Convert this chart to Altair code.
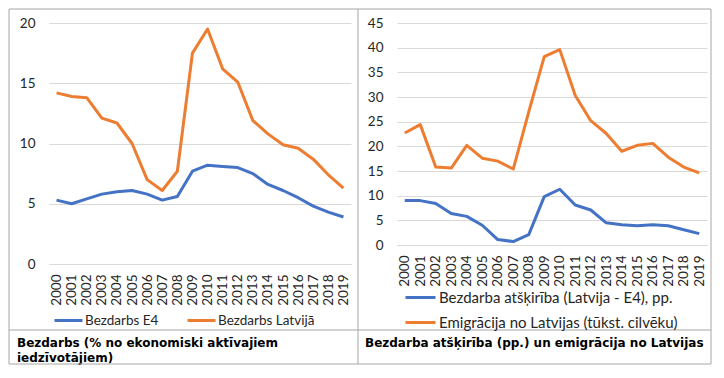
import altair as alt
import pandas as pd

years = ["2000", "2001", "2002", "2003", "2004", "2005", "2006", "2007", "2008", "2009",
         "2010", "2011", "2012", "2013", "2014", "2015", "2016", "2017", "2018", "2019"]

# Left panel: unemployment (% of economically active population)
bezdarbs_e4 = [5.3, 5.0, 5.4, 5.8, 6.0, 6.1, 5.8, 5.3, 5.6, 7.7,
               8.2, 8.1, 8.0, 7.5, 6.6, 6.1, 5.5, 4.8, 4.3, 3.9]
bezdarbs_lv = [14.2, 13.9, 13.8, 12.1, 11.7, 10.0, 7.0, 6.1, 7.7, 17.5,
               19.5, 16.2, 15.1, 11.9, 10.8, 9.9, 9.6, 8.7, 7.4, 6.3]

# Right panel: unemployment gap (pp.) and emigration (thousand people)
atskiriba = [9.0, 9.0, 8.4, 6.4, 5.8, 4.0, 1.1, 0.7, 2.1, 9.8,
             11.3, 8.1, 7.1, 4.5, 4.1, 3.9, 4.1, 3.9, 3.1, 2.3]
emigracija = [22.7, 24.4, 15.8, 15.6, 20.2, 17.6, 17.0, 15.4, 27.0, 38.2,
              39.6, 30.3, 25.2, 22.6, 19.0, 20.2, 20.6, 17.8, 15.8, 14.6]

left_names = ["Bezdarbs E4", "Bezdarbs Latvijā"]
right_names = ["Bezdarba atšķirība (Latvija - E4), pp.", "Emigrācija no Latvijas (tūkst. cilvēku)"]
left_caption = ["Bezdarbs (% no ekonomiski aktīvajiem", "iedzīvotājiem)"]
right_caption = "Bezdarba atšķirība (pp.) un emigrācija no Latvijas"

BLUE = "#4472C4"
ORANGE = "#ED7D31"
GRID = "#D9D9D9"
BORDER = "#A6A6A6"
TXT = "#262626"
FONT = "Lato"

left_df = pd.DataFrame({
    "year": years * 2,
    "value": bezdarbs_e4 + bezdarbs_lv,
    "series": [left_names[0]] * len(years) + [left_names[1]] * len(years),
})
right_df = pd.DataFrame({
    "year": years * 2,
    "value": atskiriba + emigracija,
    "series": [right_names[0]] * len(years) + [right_names[1]] * len(years),
})


def x_enc():
    return alt.X("year:O", sort=years,
                 scale=alt.Scale(type="point", padding=0.5),
                 axis=alt.Axis(title=None, labelAngle=-90, ticks=False, grid=False,
                               domain=True, domainColor=GRID, labelFont=FONT,
                               labelFontSize=13.5, labelColor=TXT, labelPadding=10,
                               labelOverlap=False))


def y_enc(maxv, step):
    return alt.Y("value:Q", scale=alt.Scale(domain=[0, maxv], nice=False, zero=True),
                 axis=alt.Axis(title=None, values=list(range(0, maxv + 1, step)),
                               domain=False, ticks=False, grid=True, gridColor=GRID,
                               labelFont=FONT, labelFontSize=13.5, labelColor=TXT,
                               labelPadding=14))


def rule(x, x2, y, y2):
    return alt.Chart(alt.Data(values=[{}])).mark_rule(color=BORDER, strokeWidth=1).encode(
        x=alt.value(x), x2=alt.value(x2), y=alt.value(y), y2=alt.value(y2))


def caption(text, x, y):
    return alt.Chart(alt.Data(values=[{}])).mark_text(
        text=text, align="left", baseline="alphabetic", font="DejaVu Sans",
        fontWeight="bold", fontSize=12, color="#000000").encode(
        x=alt.value(x), y=alt.value(y))


left_lines = alt.Chart(left_df).mark_line(strokeWidth=3, strokeJoin="round").encode(
    x=x_enc(),
    y=y_enc(20, 5),
    color=alt.Color("series:N",
                    scale=alt.Scale(domain=left_names, range=[BLUE, ORANGE]),
                    legend=alt.Legend(title=None, orient="none", legendX=4, legendY=282,
                                      direction="horizontal", symbolType="stroke",
                                      symbolSize=784, symbolStrokeWidth=3,
                                      labelFont=FONT, labelFontSize=13.5, labelColor=TXT,
                                      labelOffset=1, columnPadding=22, padding=0,
                                      labelLimit=0)),
)

# frame lines (relative to the left plot origin)
L, R, T, B = -40, 662, -14, 341
frame = [
    rule(L, R, T, T),
    rule(L, R, B, B),
    rule(L, L, T, B),
    rule(R, R, T, B),
    rule(309, 309, T, B),
    rule(L, R, 307, 307),
]

left = alt.layer(
    left_lines,
    caption(left_caption[0], -32, 323.5),
    caption(left_caption[1], -32, 338.5),
    *frame,
).properties(width=302, height=241)

right_lines = alt.Chart(right_df).mark_line(strokeWidth=3, strokeJoin="round").encode(
    x=x_enc(),
    y=y_enc(45, 5),
    color=alt.Color("series:N",
                    scale=alt.Scale(domain=right_names, range=[BLUE, ORANGE]),
                    legend=alt.Legend(title=None, orient="none", legendX=7, legendY=258,
                                      direction="vertical", symbolType="stroke",
                                      symbolSize=900, symbolStrokeWidth=3,
                                      labelFont=FONT, labelFontSize=15, labelColor=TXT,
                                      labelOffset=2, rowPadding=-10, padding=0,
                                      labelLimit=0)),
)

right = alt.layer(
    right_lines,
    caption(right_caption, -32, 323.5),
).properties(width=310, height=222)

chart = alt.hconcat(left, right, spacing=46, bounds="flush").resolve_scale(
    color="independent", x="independent", y="independent"
).resolve_legend(color="independent").properties(
    padding=0
).configure_view(stroke=None)

chart.save("out.html", embed_options={"renderer": "svg", "actions": False})
